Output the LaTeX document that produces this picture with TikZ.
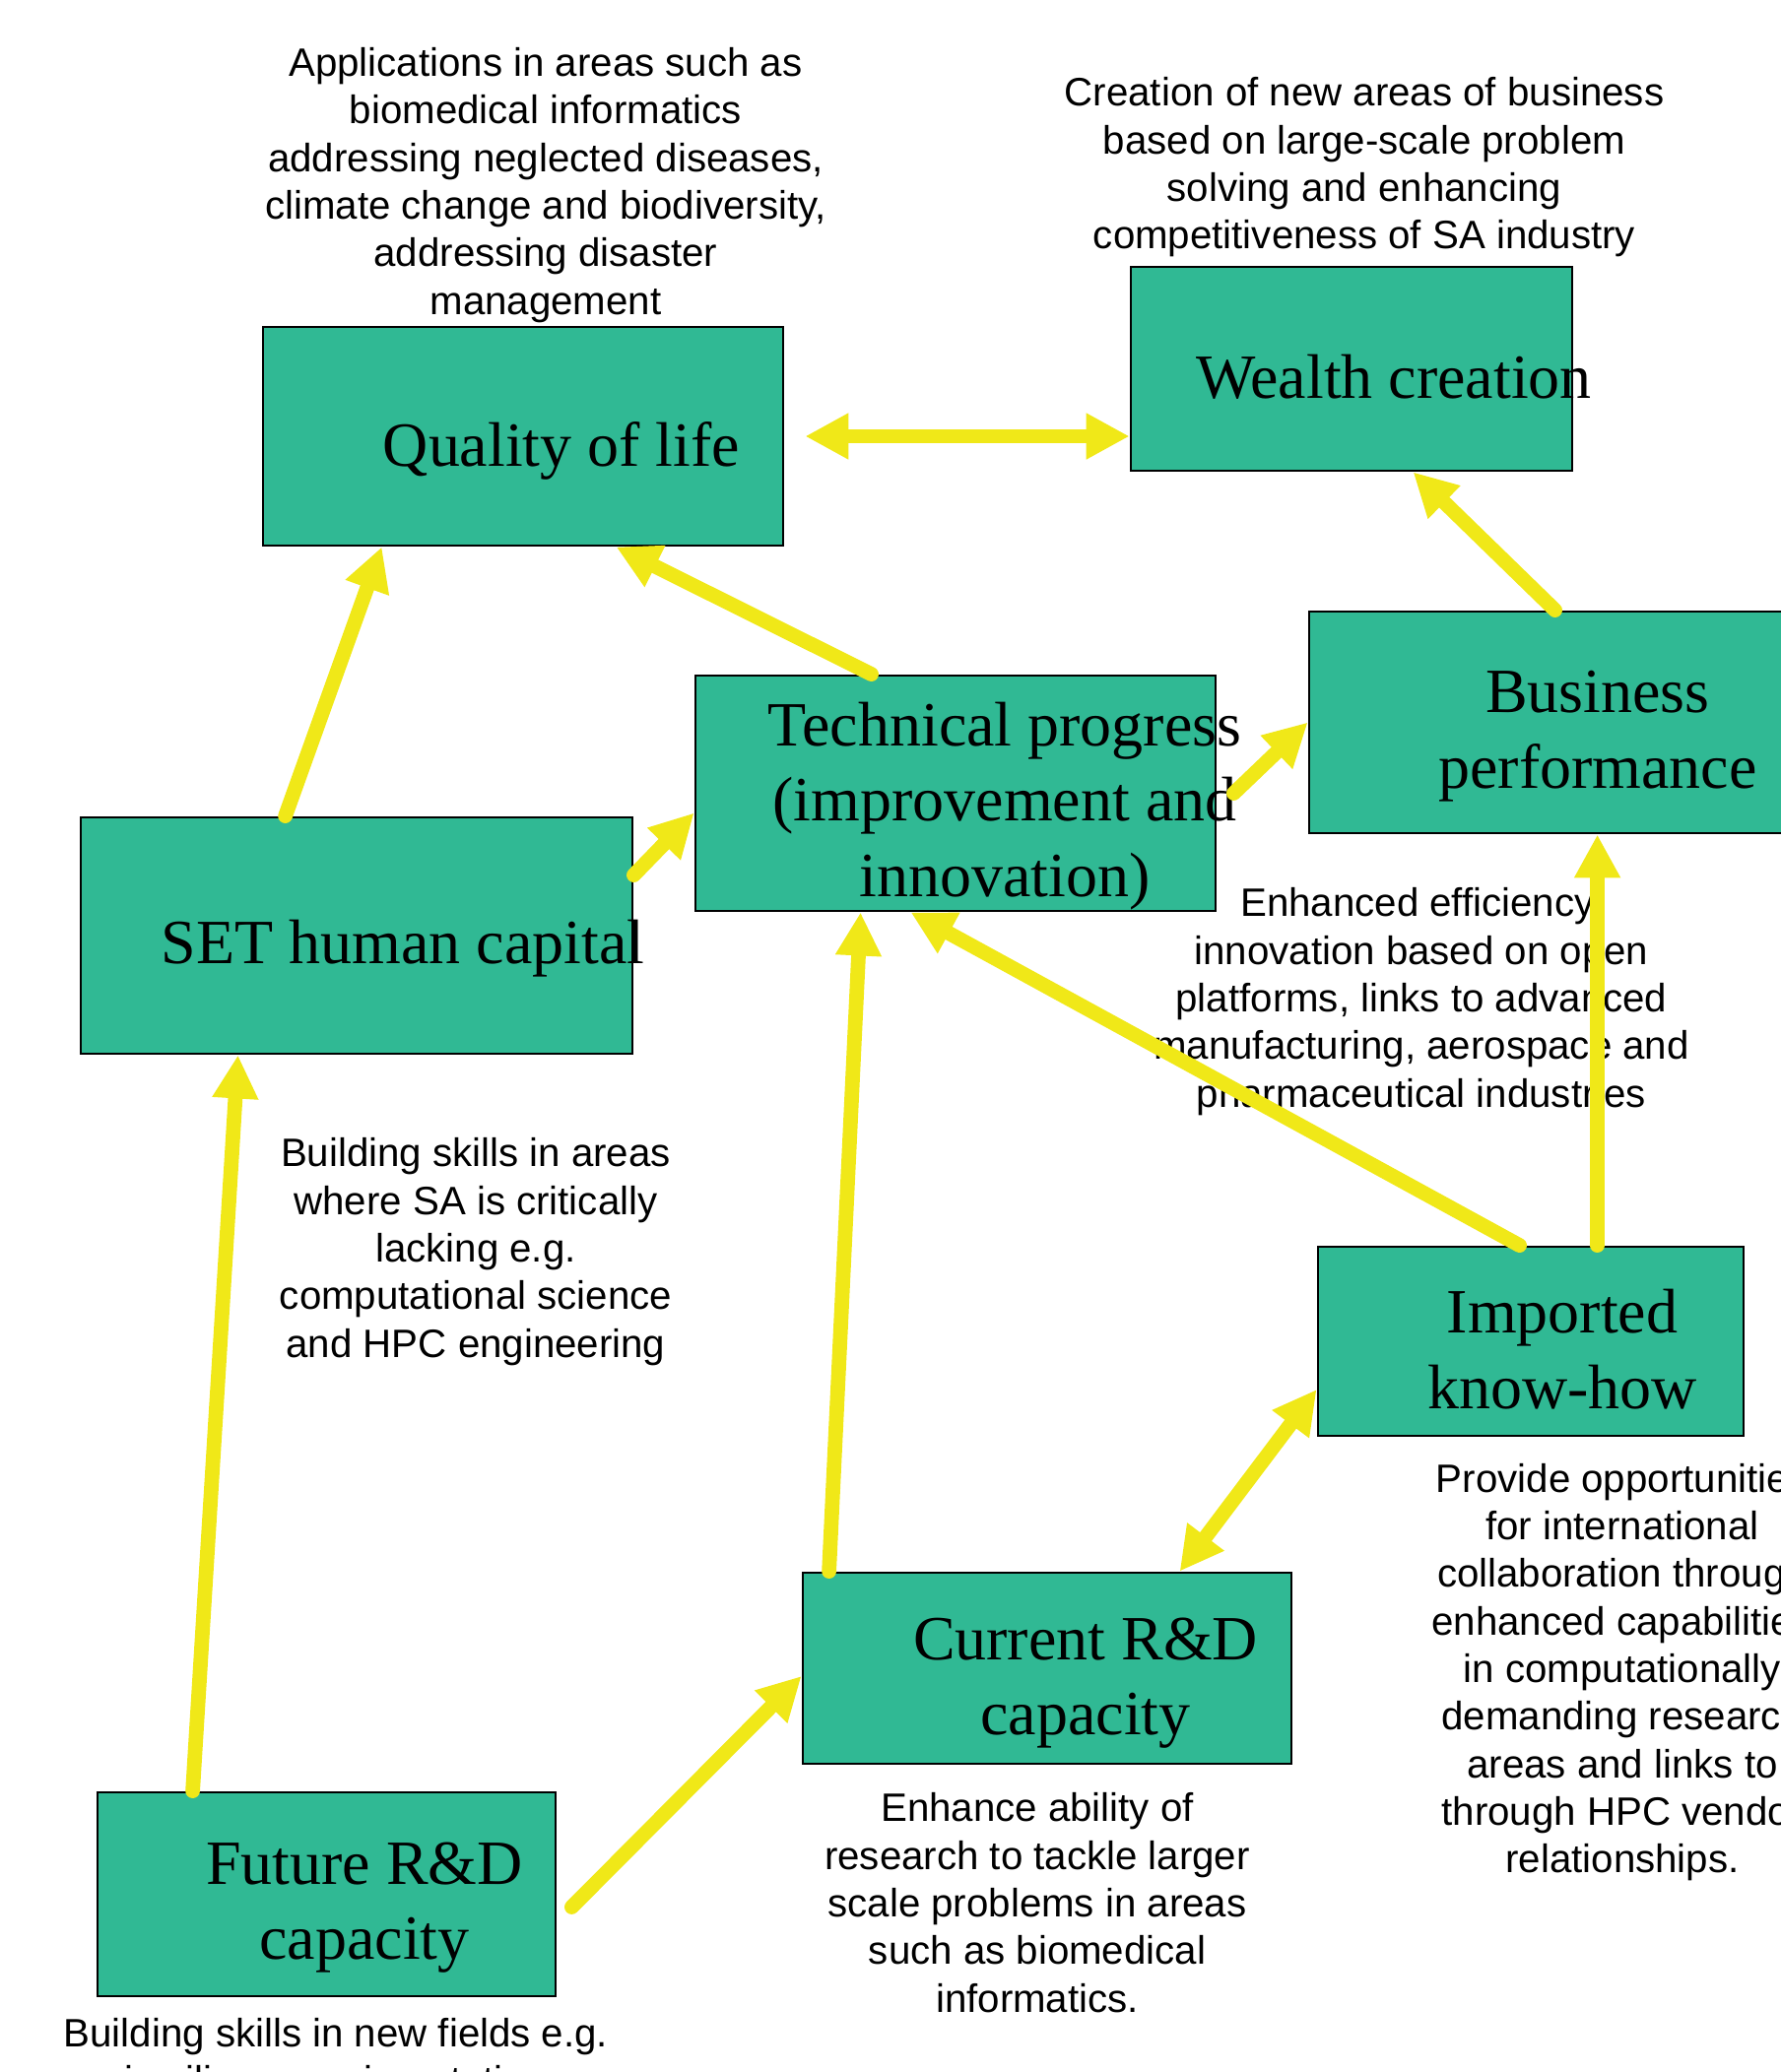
\documentclass[tikz,border=0pt]{standalone}
\usepackage{fontspec}
\setmainfont{Liberation Serif}
\setsansfont{Liberation Sans}
\usetikzlibrary{arrows.meta}
\definecolor{boxgreen}{RGB}{48,185,148}
\definecolor{arrowyellow}{RGB}{240,232,24}
\tikzset{
  box/.style={draw=black, line width=0.8pt, fill=boxgreen, inner sep=0pt},
  boxtext/.style={align=center, font=\fontsize{18.2}{21.8}\selectfont},
  note/.style={align=center, font=\sffamily\fontsize{11.45}{13.75}\selectfont},
  link/.style={draw=arrowyellow, line width=4.2pt, line cap=round, -{Triangle[length=0.44cm,width=0.44cm]}},
  twoway/.style={link, {Triangle[length=0.44cm,width=0.44cm]}-{Triangle[length=0.44cm,width=0.44cm]}}
}
\begin{document}
\begin{tikzpicture}
\useasboundingbox (0,0) rectangle (18.08,-21.04);

\node[box, minimum width=5.28cm, minimum height=2.22cm] (qol) at (5.31,-4.43) {};
\node[box, minimum width=4.48cm, minimum height=2.07cm] (wealth) at (13.72,-3.745) {};
\node[box, minimum width=5.28cm, minimum height=2.39cm] (tech) at (9.70,-8.055) {};
\node[box, minimum width=5.31cm, minimum height=2.25cm] (business) at (15.945,-7.335) {};
\node[box, minimum width=5.60cm, minimum height=2.40cm] (set) at (3.62,-9.50) {};
\node[box, minimum width=4.32cm, minimum height=1.92cm] (imported) at (15.54,-13.62) {};
\node[box, minimum width=4.96cm, minimum height=1.94cm] (current) at (10.63,-16.94) {};
\node[box, minimum width=4.65cm, minimum height=2.07cm] (future) at (3.315,-19.235) {};

\node[boxtext] (qolText) at (5.70,-4.58) {Quality of life};
\node[boxtext] (wealthText) at (14.15,-3.83) {Wealth creation};
\node[boxtext] (techText) at (10.20,-8.185) {Technical progress\\(improvement and\\innovation)};
\node[boxtext] (businessText) at (16.22,-7.475) {Business\\performance};
\node[boxtext] (setText) at (4.09,-9.635) {SET human capital};
\node[boxtext] (importedText) at (15.86,-13.70) {Imported\\know-how};
\node[boxtext] (currentText) at (11.02,-17.09) {Current R\&D\\capacity};
\node[boxtext] (futureText) at (3.70,-19.37) {Future R\&D\\capacity};

\node[note] (qolNote) at (5.54,-1.88) {Applications in areas such as\\biomedical informatics\\addressing neglected diseases,\\climate change and biodiversity,\\addressing disaster\\management};
\node[note] (wealthNote) at (13.85,-1.70) {Creation of new areas of business\\based on large-scale problem\\solving and enhancing\\competitiveness of SA industry};
\node[note] (techNote) at (14.43,-10.17) {Enhanced efficiency,\\innovation based on open\\platforms, links to advanced\\manufacturing, aerospace and\\pharmaceutical industries};
\node[note] (setNote) at (4.83,-12.71) {Building skills in areas\\where SA is critically\\lacking e.g.\\computational science\\and HPC engineering};
\node[note] (importedNote) at (16.47,-16.98) {Provide opportunities\\for international\\collaboration through\\enhanced capabilities\\in computationally\\demanding research\\areas and links to\\through HPC vendor\\relationships.};
\node[note] (currentNote) at (10.53,-19.32) {Enhance ability of\\research to tackle larger\\scale problems in areas\\such as biomedical\\informatics.};
\node[note] (futureNote) at (3.41,-20.92) {Building skills in new fields e.g.\\in silico experimentation};

\draw[twoway] ([xshift=0.21cm]qol.east) -- (wealth.west |- qol.east);
\draw[link] ([xshift=2.09cm]set.north west) -- ([xshift=1.22cm]qol.south west);
\draw[link] ([xshift=1.80cm]tech.north west) -- ([xshift=3.60cm]qol.south west);
\draw[link] ([yshift=-0.60cm]set.north east) -- ([yshift=-0.20cm]tech.west);
\draw[link] ([xshift=0.17cm]tech.east) -- (business.west);
\draw[link] ([xshift=2.51cm]business.north west) -- ([xshift=2.88cm]wealth.south west);
\coordinate (impTop) at ([xshift=2.85cm]imported.north west);
\draw[link] (impTop) -- (impTop |- business.south);
\draw[link] ([xshift=2.06cm]imported.north west) -- ([xshift=2.20cm]tech.south west);
\draw[link] ([xshift=0.98cm]future.north west) -- ([xshift=1.61cm]set.south west);
\draw[link] ([xshift=0.28cm]current.north west) -- ([xshift=1.69cm]tech.south west);
\draw[twoway] ([yshift=-0.49cm]imported.west) -- ([xshift=3.84cm]current.north west);
\draw[link] ([xshift=0.15cm,yshift=-0.13cm]future.east) -- ([yshift=-0.08cm]current.west);

\end{tikzpicture}
\end{document}
